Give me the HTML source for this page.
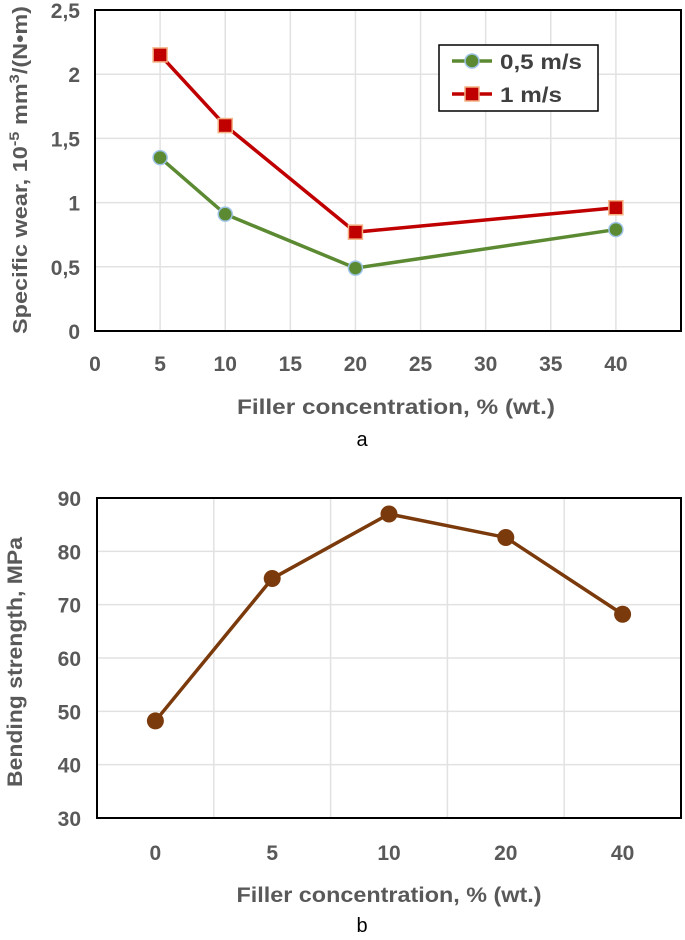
<!DOCTYPE html>
<html><head><meta charset="utf-8"><style>
body{margin:0;background:#fff;}
svg text{font-family:"Liberation Sans",sans-serif;}
</style></head><body>
<svg id="s" width="685" height="935" xmlns="http://www.w3.org/2000/svg"></svg>
<script>
const aX=[5,10,20,40];
const aSlow=[1.35,0.91,0.49,0.79];
const aFast=[2.15,1.6,0.77,0.96];
const aXTicks=[0,5,10,15,20,25,30,35,40];
const aYTicks=[0,0.5,1,1.5,2,2.5];
const bCats=['0','5','10','20','40'];
const bVals=[48.2,74.9,87,82.6,68.2];
const bYTicks=[30,40,50,60,70,80,90];

const NS='http://www.w3.org/2000/svg';
const svg=document.getElementById('s');
function el(t,a,p){const e=document.createElementNS(NS,t);for(const k in a)e.setAttribute(k,a[k]);(p||svg).appendChild(e);return e;}
function txt(s,a,p){const e=el('text',a,p);e.textContent=s;return e;}

// Chart A
const A={l:95,r:681,t:10,b:331};
const ax=v=>A.l+(v-0)*(A.r-A.l)/45;
const ay=v=>A.b-v*(A.b-A.t)/2.5;
const ga=el('g',{});


aXTicks.forEach(v=>{const g=el('line',{x1:ax(v),x2:ax(v),y1:A.t,y2:A.b,stroke:'#e2e2e2','stroke-width':1.5},ga);
 const t=txt(String(v),{x:ax(v),y:371,'text-anchor':'middle','font-size':21,'font-weight':'bold',fill:'#595959'},ga);});
aYTicks.forEach(v=>{const g=el('line',{x1:A.l,x2:A.r,y1:ay(v),y2:ay(v),stroke:'#e2e2e2','stroke-width':1.5},ga);
 const t=txt(String(v).replace('.',','),{x:80,y:ay(v)+8,'text-anchor':'end','font-size':21,'font-weight':'bold',fill:'#595959'},ga);});
const fa=el('rect',{x:A.l,y:A.t,width:A.r-A.l,height:A.b-A.t,fill:'none',stroke:'#000','stroke-width':2},ga);

function series(vals,col,name){const l=el('polyline',{points:aX.map((x,i)=>ax(x)+','+ay(vals[i])).join(' '),fill:'none',stroke:col,'stroke-width':3.5},ga);}
series(aSlow,'#5b8a32','slow');series(aFast,'#c00000','fast');
aX.forEach((x,i)=>{const c=el('circle',{cx:ax(x),cy:ay(aSlow[i]),r:7,fill:'#5b8a32',stroke:'#9dc3e6','stroke-width':1.5},ga);
 const r=el('rect',{x:ax(x)-7,y:ay(aFast[i])-7,width:14,height:14,fill:'#c00000',stroke:'#f4b183','stroke-width':1.5},ga);});
const lg=el('g',{},ga);
el('rect',{x:439,y:45,width:159,height:66,fill:'#fff',stroke:'#000','stroke-width':1.5},lg);
el('line',{x1:452,x2:492,y1:61,y2:61,stroke:'#5b8a32','stroke-width':3.5},lg);
el('circle',{cx:472,cy:61,r:7,fill:'#5b8a32',stroke:'#9dc3e6','stroke-width':1.5},lg);
txt('0,5 m/s',{x:500,y:69,'font-size':21,'font-weight':'bold',fill:'#404040',textLength:82,lengthAdjust:'spacingAndGlyphs'},lg);
el('line',{x1:452,x2:492,y1:94,y2:94,stroke:'#c00000','stroke-width':3.5},lg);
el('rect',{x:465,y:87,width:14,height:14,fill:'#c00000',stroke:'#f4b183','stroke-width':1.5},lg);
txt('1 m/s',{x:500,y:102,'font-size':21,'font-weight':'bold',fill:'#404040',textLength:62,lengthAdjust:'spacingAndGlyphs'},lg);
let t=txt('Filler concentration, % (wt.)',{x:396,y:414,'text-anchor':'middle','font-size':21,'font-weight':'bold',fill:'#595959',textLength:318,lengthAdjust:'spacingAndGlyphs'},ga);
t=el('text',{x:0,y:0,transform:'translate(27,170) rotate(-90)','text-anchor':'middle','font-size':20,'font-weight':'bold',fill:'#595959',textLength:328,lengthAdjust:'spacingAndGlyphs'},ga);
t.innerHTML='Specific wear, 10<tspan dy="-8" font-size="14">-5</tspan><tspan dy="8"> mm</tspan><tspan dy="-8" font-size="14">3</tspan><tspan dy="8">/(N•m)</tspan>';

t=txt('a',{x:362,y:446,'text-anchor':'middle','font-size':20,fill:'#000','font-family':'Liberation Serif'},ga);

// Chart B
const B={l:97,r:681,t:498,b:818};
const bw=(B.r-B.l)/bCats.length;
const bx=i=>B.l+bw*(i+0.5);
const by=v=>B.b-(v-30)*(B.b-B.t)/60;
const gb=el('g',{});


bYTicks.forEach(v=>{const g=el('line',{x1:B.l,x2:B.r,y1:by(v),y2:by(v),stroke:'#e2e2e2','stroke-width':1.5},gb);
 const t=txt(String(v),{x:81,y:by(v)+8,'text-anchor':'end','font-size':21,'font-weight':'bold',fill:'#595959'},gb);});
bCats.forEach((c,i)=>{if(i>0){const g=el('line',{x1:B.l+bw*i,x2:B.l+bw*i,y1:B.t,y2:B.b,stroke:'#e2e2e2','stroke-width':1.5},gb);}
 const t=txt(c,{x:bx(i),y:860,'text-anchor':'middle','font-size':21,'font-weight':'bold',fill:'#595959'},gb);});
const fb=el('rect',{x:B.l,y:B.t,width:B.r-B.l,height:B.b-B.t,fill:'none',stroke:'#000','stroke-width':2},gb);

const bl=el('polyline',{points:bVals.map((v,i)=>bx(i)+','+by(v)).join(' '),fill:'none',stroke:'#7b3a0c','stroke-width':3.5},gb);

bVals.forEach((v,i)=>{const c=el('circle',{cx:bx(i),cy:by(v),r:8.5,fill:'#7b3a0c'},gb);});
t=txt('Filler concentration, % (wt.)',{x:389,y:902,'text-anchor':'middle','font-size':21,'font-weight':'bold',fill:'#595959',textLength:305,lengthAdjust:'spacingAndGlyphs'},gb);
t=txt('Bending strength, MPa',{x:0,y:0,transform:'translate(22,662) rotate(-90)','text-anchor':'middle','font-size':21,'font-weight':'bold',fill:'#595959',textLength:250,lengthAdjust:'spacingAndGlyphs'},gb);
t=txt('b',{x:362,y:932,'text-anchor':'middle','font-size':20,fill:'#000','font-family':'Liberation Serif'},gb);
</script>
</body></html>
